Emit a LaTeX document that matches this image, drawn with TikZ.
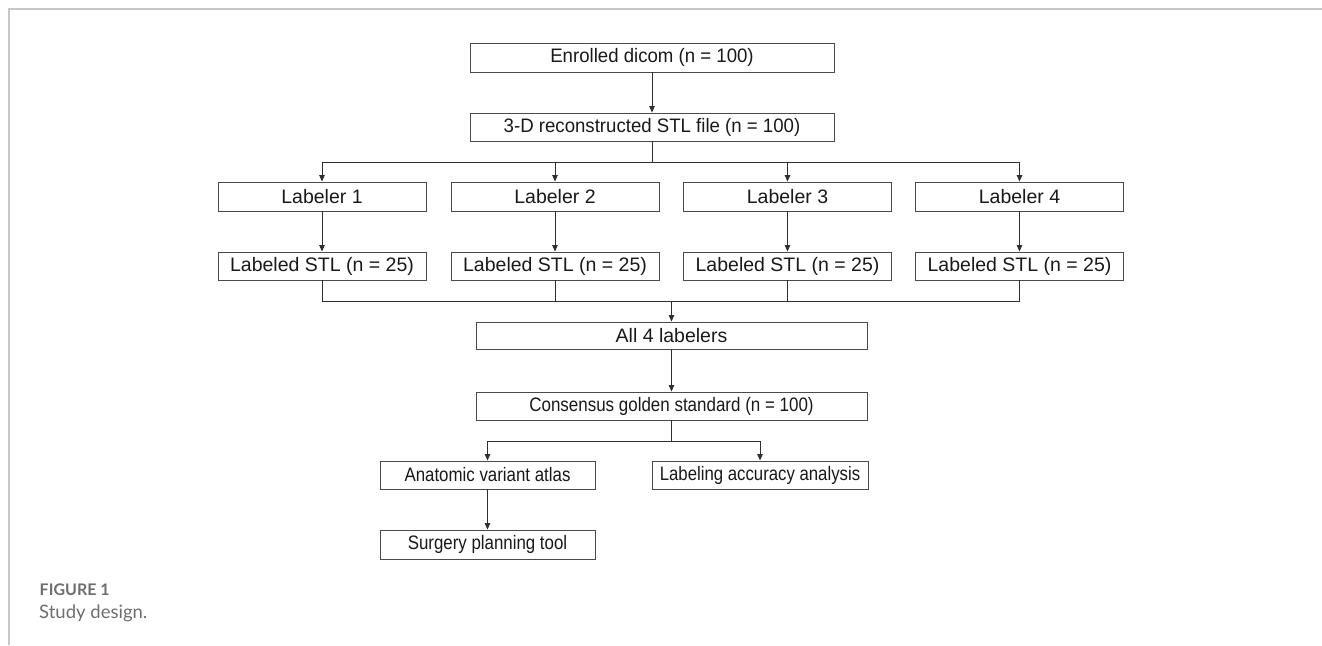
\documentclass[tikz,border=0pt]{standalone}
\usepackage{graphicx}
\usepackage{fontspec}
\setmainfont{Liberation Sans}
\newfontfamily\capfont{Lato}
\usetikzlibrary{arrows.meta}
\definecolor{boxline}{HTML}{4A4A4A}
\definecolor{conn}{HTML}{2E2E2E}
\definecolor{frame}{HTML}{C8C8C8}
\definecolor{captxt}{HTML}{6E6E6E}
\newcommand{\hsq}[2]{\scalebox{#1}[1]{#2}}
\tikzset{
  fbox/.style={draw=boxline, line width=0.9pt, rectangle, inner sep=0pt,
    font=\fontsize{19.5}{22}\selectfont, text=black!90},
  conline/.style={draw=conn, line width=0.9pt},
  arr/.style={conline, -{Triangle[length=6.5pt,width=5.5pt]}},
}
\begin{document}
\begin{tikzpicture}[x=1pt,y=-1pt]
\useasboundingbox (0,0) rectangle (1322,645);
\draw[frame, line width=1.4pt] (9,645) -- (9,9) -- (1322,9);
% boxes
\node[fbox, minimum width=364, minimum height=29] (enr) at (652,57.5) {\hsq{0.955}{Enrolled dicom (n = 100)}};
\node[fbox, minimum width=364, minimum height=28] (recon) at (652,127) {\hsq{0.955}{3-D reconstructed STL file (n = 100)}};
\node[fbox, minimum width=208, minimum height=29] (l1) at (322,196.5) {Labeler 1};
\node[fbox, minimum width=208, minimum height=29] (l2) at (555,196.5) {Labeler 2};
\node[fbox, minimum width=208, minimum height=29] (l3) at (787.5,196.5) {Labeler 3};
\node[fbox, minimum width=208, minimum height=29] (l4) at (1019.5,196.5) {Labeler 4};
\node[fbox, minimum width=208, minimum height=28] (s1) at (322,266) {Labeled STL (n = 25)};
\node[fbox, minimum width=208, minimum height=28] (s2) at (555,266) {Labeled STL (n = 25)};
\node[fbox, minimum width=208, minimum height=28] (s3) at (787.5,266) {Labeled STL (n = 25)};
\node[fbox, minimum width=208, minimum height=28] (s4) at (1019.5,266) {Labeled STL (n = 25)};
\node[fbox, minimum width=391, minimum height=27] (all) at (671.5,335.5) {All 4 labelers};
\node[fbox, minimum width=391, minimum height=28] (cons) at (671.5,406) {\hsq{0.87}{Consensus golden standard (n = 100)}};
\node[fbox, minimum width=215, minimum height=28] (atlas) at (487.5,475) {\hsq{0.865}{Anatomic variant atlas}};
\node[fbox, minimum width=216, minimum height=28] (acc) at (760,475) {\hsq{0.86}{Labeling accuracy analysis}};
\node[fbox, minimum width=215, minimum height=29] (surg) at (487.5,544.5) {\hsq{0.865}{Surgery planning tool}};
% coordinates
\coordinate (b1) at (652,162);
\coordinate (m1) at (671.5,301);
\coordinate (b2) at (671.5,441);
% connectors
\draw[arr] (enr) -- (recon);
\draw[conline] (recon) -- (b1);
\draw[conline] (b1 -| l1) -- (b1 -| l4);
\draw[arr] (b1 -| l1) -- (l1);
\draw[arr] (b1 -| l2) -- (l2);
\draw[arr] (b1 -| l3) -- (l3);
\draw[arr] (b1 -| l4) -- (l4);
\draw[arr] (l1) -- (s1);
\draw[arr] (l2) -- (s2);
\draw[arr] (l3) -- (s3);
\draw[arr] (l4) -- (s4);
\draw[conline] (s1) -- (m1 -| s1) -- (m1 -| s4) -- (s4);
\draw[conline] (s2) -- (m1 -| s2);
\draw[conline] (s3) -- (m1 -| s3);
\draw[arr] (m1) -- (all);
\draw[arr] (all) -- (cons);
\draw[conline] (cons) -- (b2);
\draw[conline] (b2 -| atlas) -- (b2 -| acc);
\draw[arr] (b2 -| atlas) -- (atlas);
\draw[arr] (b2 -| acc) -- (acc);
\draw[arr] (atlas) -- (surg);
% caption
\node[anchor=base west, inner sep=0pt, text=captxt, font=\capfont\bfseries\fontsize{16}{18}\selectfont] (figlab) at (39.5,595) {FIGURE 1};
\node[anchor=base west, inner sep=0pt, text=captxt, font=\capfont\fontsize{18.5}{21}\selectfont] (figcap) at (39,618) {Study design.};
\end{tikzpicture}
\end{document}
